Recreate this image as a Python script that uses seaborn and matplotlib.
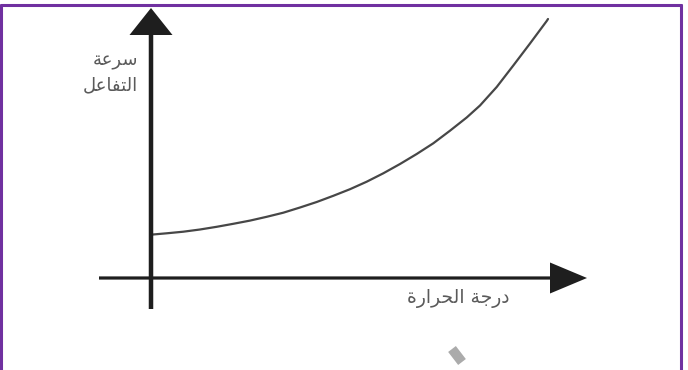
import matplotlib
matplotlib.use("Agg")
import matplotlib.pyplot as plt
from matplotlib.lines import Line2D
import seaborn as sns
import pandas as pd

# ---- data ----
temperature = [2, 15.7, 32.3, 49, 65.7, 82.3, 99, 115.7, 132.3, 149, 165.7,
               182.3, 199, 215.7, 232.3, 249, 265.7, 282.3, 299, 315.7, 329,
               345.7, 362.3, 379, 395.7, 397]
rate = [43.5, 44.7, 46.3, 48.5, 51.2, 54.2, 57.4, 61.2, 65.3, 70.5, 76,
        82.2, 88.8, 96.3, 104.7, 114, 124, 134.7, 147.3, 160.5, 172.5,
        191, 212.5, 234.5, 257, 259]
y_label_lines = ["سرعة", "التفاعل"]
x_label = "درجة الحرارة"

# ---- minimal Arabic shaping (matplotlib has no complex text layout) ----
FORMS = {  # isolated, final, initial, medial
    "ا": ("\uFE8D", "\uFE8E", None, None),
    "ر": ("\uFEAD", "\uFEAE", None, None),
    "ة": ("\uFE93", "\uFE94", None, None),
    "د": ("\uFEA9", "\uFEAA", None, None),
    "ل": ("\uFEDD", "\uFEDE", "\uFEDF", "\uFEE0"),
    "ت": ("\uFE95", "\uFE96", "\uFE97", "\uFE98"),
    "ف": ("\uFED1", "\uFED2", "\uFED3", "\uFED4"),
    "ع": ("\uFEC9", "\uFECA", "\uFECB", "\uFECC"),
    "س": ("\uFEB1", "\uFEB2", "\uFEB3", "\uFEB4"),
    "ج": ("\uFE9D", "\uFE9E", "\uFE9F", "\uFEA0"),
    "ح": ("\uFEA1", "\uFEA2", "\uFEA3", "\uFEA4"),
}


def shape(text):
    out = []
    n = len(text)
    for i, ch in enumerate(text):
        if ch not in FORMS:
            out.append(ch)
            continue
        iso, fin, ini, med = FORMS[ch]
        prev = text[i - 1] if i > 0 else None
        nxt = text[i + 1] if i < n - 1 else None
        jp = prev in FORMS and FORMS[prev][2] is not None
        jn = ini is not None and nxt in FORMS
        if jp and jn:
            out.append(med)
        elif jp:
            out.append(fin)
        elif jn:
            out.append(ini)
        else:
            out.append(iso)
    return "".join(reversed(out))


sns.set_theme(style="white")
plt.rcParams["font.family"] = ["DejaVu Sans"]

W, H = 688, 370
ox, oy = 151, 278  # origin position in pixels
fig = plt.figure(figsize=(W / 100, H / 100), dpi=100)
ax = fig.add_axes([0, 0, 1, 1])
ax.set_xlim(-ox, W - ox)
ax.set_ylim(oy - H, oy)
ax.axis("off")

df = pd.DataFrame({"temperature": temperature, "rate": rate})
sns.lineplot(data=df, x="temperature", y="rate", ax=ax, color="#474747",
             linewidth=1.6, zorder=3)

axis_col = "#1e1e1e"
# vertical axis with arrow
ax.arrow(0, -31, 0, 31 + 270, width=4.5, head_width=43, head_length=27,
         length_includes_head=True, color=axis_col, zorder=4, linewidth=0)
# horizontal axis with arrow
ax.arrow(-52, 0, 52 + 436, 0, width=3.2, head_width=31, head_length=37,
         length_includes_head=True, color=axis_col, zorder=4, linewidth=0)

txt_col = "#5a5a5a"
ax.text(138 - ox, oy - 61, shape(y_label_lines[0]), ha="right", va="center",
        fontsize=13, color=txt_col)
ax.text(138 - ox, oy - 85, shape(y_label_lines[1]), ha="right", va="center",
        fontsize=13, color=txt_col)
ax.text(458 - ox, oy - 298, shape(x_label), ha="center", va="center",
        fontsize=13.5, color=txt_col)

# small grey scan mark
ax.plot([452 - ox, 462 - ox], [oy - 349, oy - 362], color="#ababab",
        linewidth=7, solid_capstyle="butt")

# purple frame (bottom edge lies outside the picture)
frame_col = "#7030a0"
def fx(px):
    return px / W
def fy(py):
    return 1 - py / H
for xs, ys in [([fx(1), fx(1)], [fy(5), fy(H + 5)]),
               ([fx(1), fx(681)], [fy(5), fy(5)]),
               ([fx(681), fx(681)], [fy(5), fy(H + 5)])]:
    fig.add_artist(Line2D(xs, ys, color=frame_col, linewidth=2.2,
                          transform=fig.transFigure))

fig.savefig("out.png", dpi=100)
